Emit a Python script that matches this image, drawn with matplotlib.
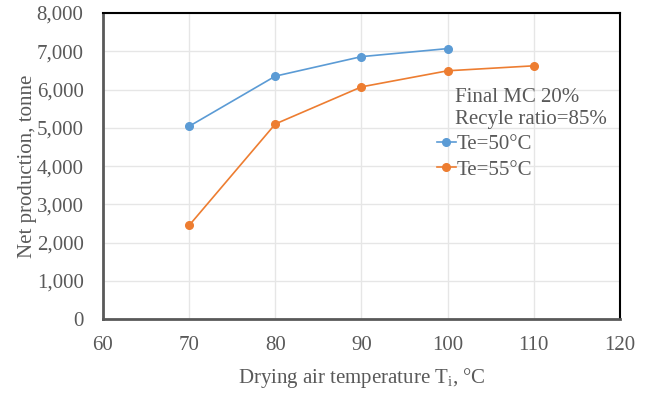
import matplotlib
matplotlib.use("Agg")
import matplotlib.pyplot as plt

# datos
temp_50 = [70, 80, 90, 100]
prod_50 = [5040, 6350, 6860, 7070]
temp_55 = [70, 80, 90, 100, 110]
prod_55 = [2450, 5100, 6070, 6490, 6620]

x_ticks = [60, 70, 80, 90, 100, 110, 120]
y_ticks = list(range(0, 8001, 1000))

gris = '#595959'
azul = '#5b9bd5'
naranja = '#ed7d31'

plt.rcParams['font.family'] = ['Liberation Serif', 'DejaVu Serif']

fig = plt.figure(figsize=(6.49, 3.94), dpi=100)
ax = fig.add_axes([0.1587, 0.190, 0.7966, 0.777])

ax.plot(temp_50, prod_50, color=azul, marker='o', markersize=5.5, linewidth=1.2, label='Te=50°C')
ax.plot(temp_55, prod_55, color=naranja, marker='o', markersize=5.5, linewidth=1.2, label='Te=55°C')

ax.set_xlim(60, 120)
ax.set_ylim(0, 8000)
ax.set_xticks(x_ticks)
ax.set_yticks(y_ticks)
ax.set_yticklabels([f'{v:,}' for v in y_ticks])
ax.grid(True, color='#e6e6e6', linewidth=1)
ax.set_axisbelow(True)
ax.tick_params(length=0, labelsize=15, colors=gris)
ax.tick_params(axis='y', pad=14)
ax.tick_params(axis='x', pad=12)

for lado in ['left', 'bottom']:
    ax.spines[lado].set_color(gris)
    ax.spines[lado].set_linewidth(2)
for lado in ['top', 'right']:
    ax.spines[lado].set_color('black')
    ax.spines[lado].set_linewidth(1.5)

ax.set_xlabel('Drying air temperature T$_\\mathregular{i}$, °C', fontsize=15, color=gris, labelpad=8)
ax.set_ylabel('Net production, tonne', fontsize=15, color=gris, labelpad=0)

ax.text(0.681, 0.688, 'Final MC 20%\nRecyle ratio=85%', transform=ax.transAxes,
        fontsize=15, color=gris, va='center', linespacing=1.25)
ax.legend(loc='upper left', bbox_to_anchor=(0.626, 0.638), frameon=False,
          fontsize=15, labelcolor=gris, handlelength=0.9, handletextpad=0.05,
          labelspacing=0.3, borderpad=0)

plt.savefig('out.png', dpi=100, facecolor='white')
